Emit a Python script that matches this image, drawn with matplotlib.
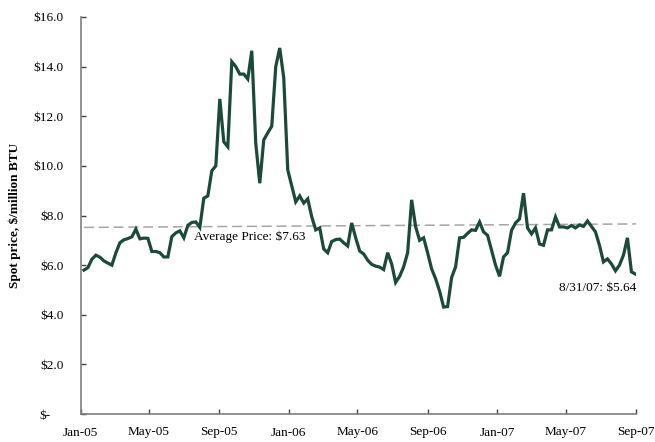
import matplotlib
matplotlib.use("Agg")
import matplotlib.pyplot as plt
import matplotlib.dates as mdates
from matplotlib.transforms import ScaledTranslation
import numpy as np
import pandas as pd

plt.rcParams['font.family'] = ['Liberation Serif', 'DejaVu Serif']

# Weekly spot prices ($/million BTU), Fridays from 2005-01-07 to 2007-08-31
prices = [
    5.80, 5.90, 6.24, 6.40, 6.32, 6.17, 6.08, 6.00, 6.50, 6.90,
    7.02, 7.07, 7.14, 7.45, 7.06, 7.09, 7.08, 6.55, 6.55, 6.50,
    6.33, 6.33, 7.15, 7.30, 7.38, 7.10, 7.60, 7.72, 7.74, 7.52,
    8.70, 8.79, 9.80, 10.00, 12.70, 10.97, 10.77, 14.20, 14.00, 13.70,
    13.70, 13.50, 14.64, 10.90, 9.30, 11.05, 11.33, 11.60, 14.00, 14.75,
    13.55, 9.84, 9.20, 8.55, 8.79, 8.50, 8.67, 7.95, 7.42, 7.50,
    6.65, 6.50, 6.95, 7.03, 7.05, 6.90, 6.77, 7.70, 7.10, 6.57,
    6.45, 6.20, 6.03, 5.96, 5.92, 5.82, 6.50, 6.05, 5.30, 5.55,
    5.93, 6.50, 8.63, 7.55, 7.00, 7.10, 6.50, 5.85, 5.45, 4.95,
    4.31, 4.33, 5.50, 5.93, 7.10, 7.12, 7.28, 7.42, 7.40, 7.74,
    7.34, 7.20, 6.60, 6.00, 5.55, 6.33, 6.50, 7.40, 7.70, 7.86,
    8.90, 7.50, 7.26, 7.50, 6.85, 6.80, 7.42, 7.42, 7.94, 7.54,
    7.54, 7.50, 7.60, 7.50, 7.62, 7.56, 7.78, 7.56, 7.34, 6.80,
    6.13, 6.25, 6.05, 5.77, 6.00, 6.40, 7.10, 5.73, 5.64,
]
dates = pd.date_range("2005-01-07", periods=len(prices), freq="7D")

# Average-price trendline endpoints (as drawn)
trend_values = [7.52, 7.66]
trend_dates = [dates[0], pd.Timestamp("2007-09-01")]

x_ticks = pd.to_datetime(["2005-01-01", "2005-05-01", "2005-09-01", "2006-01-01",
                          "2006-05-01", "2006-09-01", "2007-01-01", "2007-05-01",
                          "2007-09-01"])
x_labels = ["Jan-05", "May-05", "Sep-05", "Jan-06", "May-06", "Sep-06",
            "Jan-07", "May-07", "Sep-07"]
y_ticks = [0, 2, 4, 6, 8, 10, 12, 14, 16]
y_labels = ["$-", "$2.0", "$4.0", "$6.0", "$8.0", "$10.0", "$12.0", "$14.0", "$16.0"]

fig = plt.figure(figsize=(6.55, 4.42), dpi=100)
ax = fig.add_axes([80.5 / 655, 28 / 442, (636 - 80.5) / 655, (414 - 17) / 442])

ax.plot(trend_dates, trend_values, color="#A6A6A6", lw=1.1, dashes=(6.5, 3.2), zorder=1)
ax.plot(dates, prices, color="#1C4A39", lw=2.3, solid_joinstyle="miter", zorder=2)

ax.set_xlim(x_ticks[0], x_ticks[-1])
ax.set_ylim(0, 16)
ax.set_xticks(x_ticks)
ax.set_xticklabels(x_labels)
ax.set_yticks(y_ticks)
ax.set_yticklabels(y_labels)

for s in ["top", "right"]:
    ax.spines[s].set_visible(False)
for s in ["left", "bottom"]:
    ax.spines[s].set_color("#7F7F7F")
    ax.spines[s].set_linewidth(1.2)

ax.tick_params(axis="both", direction="in", length=3.5, width=1.0, color="#404040",
               labelsize=9.5, labelcolor="black")
ax.tick_params(axis="x", pad=9)
ax.tick_params(axis="y", pad=12)

# shift "$-" label left as in the reference
for lbl in ax.get_yticklabels():
    if lbl.get_text() == "$-":
        lbl.set_transform(lbl.get_transform() + ScaledTranslation(-13 / 100, 0, fig.dpi_scale_trans))

ax.text(pd.Timestamp("2005-07-18"), 7.14, "Average Price: $7.63", ha="left", va="center",
        fontsize=9.5, color="black")
ax.text(pd.Timestamp("2007-09-02"), 5.08, "8/31/07: $5.64", ha="right", va="center",
        fontsize=9.5, color="black")

fig.text(15 / 655, 1 - 215.5 / 442, "Spot price, $/million BTU", rotation=90,
         ha="center", va="center", fontsize=9.5, fontweight="bold")

fig.savefig("out.png", dpi=100)
